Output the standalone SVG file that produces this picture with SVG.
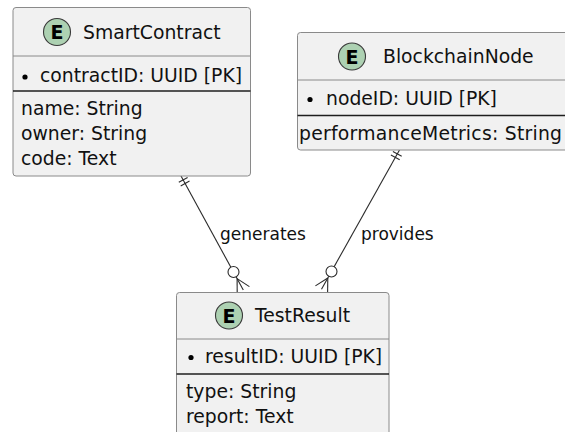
<svg xmlns="http://www.w3.org/2000/svg" width="565" height="432" viewBox="0 0 565 432">
  <style>
    .box { fill: #F1F1F1; stroke: #8a8a8a; stroke-width: 1; }
    .hdr { stroke: #8a8a8a; stroke-width: 1; }
    .sep { stroke: #1e1e1e; stroke-width: 1.3; }
    .badge { fill: #ADD1B2; stroke: #3a3a3a; stroke-width: 1.1; }
    .badge-t { font-family: "DejaVu Sans", sans-serif; font-size: 19px; font-weight: bold; fill: #000; text-anchor: middle; }
    .title { font-family: "DejaVu Sans", sans-serif; font-size: 18.8px; fill: #111; }
    .attr { font-family: "DejaVu Sans", sans-serif; font-size: 18.8px; fill: #111; }
    .bullet { fill: #000; }
    .link { stroke: #2a2a2a; stroke-width: 1.1; fill: none; }
    .ring { stroke: #2a2a2a; stroke-width: 1.1; fill: #ffffff; }
    .lbl { font-family: "DejaVu Sans", sans-serif; font-size: 17px; fill: #111; }
  </style>
  <rect width="565" height="432" fill="#ffffff"/>

  <!-- relationships: exactly one to zero-or-many -->
  <g id="connectors">
    <!-- SmartContract generates TestResult -->
    <g id="link-generates">
      <line class="link" x1="181" y1="176" x2="243.3" y2="290"/>
      <line class="link" x1="187.6" y1="177.5" x2="178.8" y2="182.3"/>
      <line class="link" x1="189.5" y1="181.1" x2="180.7" y2="185.9"/>
      <line class="link" x1="237.1" y1="278.6" x2="249.4" y2="286.6"/>
      <line class="link" x1="237.1" y1="278.6" x2="237.2" y2="292.5"/>
      <circle class="ring" cx="233.5" cy="272" r="5.5"/>
      <text class="lbl" x="220" y="240">generates</text>
    </g>
    <!-- BlockchainNode provides TestResult -->
    <g id="link-provides">
      <line class="link" x1="399.5" y1="150" x2="321.5" y2="289.3"/>
      <line class="link" x1="401.7" y1="156.3" x2="392.9" y2="151.5"/>
      <line class="link" x1="399.7" y1="159.8" x2="390.9" y2="155.0"/>
      <line class="link" x1="327.8" y1="278" x2="315.4" y2="285.9"/>
      <line class="link" x1="327.8" y1="278" x2="327.6" y2="292.5"/>
      <circle class="ring" cx="331.5" cy="271.5" r="5.5"/>
      <text class="lbl" x="361" y="240">provides</text>
    </g>
  </g>

  <!-- SmartContract entity -->
  <g id="SmartContract">
    <rect class="box" x="13" y="7.5" width="237.5" height="168.5" rx="3"/>
    <circle class="badge" cx="57" cy="32" r="13.5"/>
    <text class="badge-t" x="57" y="39">E</text>
    <text class="title" x="83" y="38.5">SmartContract</text>
    <line class="hdr" x1="13" y1="56" x2="250.5" y2="56"/>
    <circle class="bullet" cx="25" cy="77" r="2.6"/>
    <text class="attr" x="40" y="82">contractID: UUID [PK]</text>
    <line class="sep" x1="13" y1="91" x2="250.5" y2="91"/>
    <text class="attr" x="21" y="114.5">name: String</text>
    <text class="attr" x="21" y="139.5">owner: String</text>
    <text class="attr" x="21" y="164.5">code: Text</text>
  </g>

  <!-- BlockchainNode entity -->
  <g id="BlockchainNode">
    <rect class="box" x="297.5" y="32.5" width="285" height="117.5" rx="3"/>
    <circle class="badge" cx="352" cy="56.5" r="13.5"/>
    <text class="badge-t" x="352" y="63.5">E</text>
    <text class="title" x="383" y="63">BlockchainNode</text>
    <line class="hdr" x1="297.5" y1="80" x2="575" y2="80"/>
    <circle class="bullet" cx="310" cy="99.5" r="2.6"/>
    <text class="attr" x="326" y="105">nodeID: UUID [PK]</text>
    <line class="sep" x1="297.5" y1="115.5" x2="575" y2="115.5"/>
    <text class="attr" x="299" y="139.5" textLength="263" lengthAdjust="spacing">performanceMetrics: String</text>
  </g>

  <!-- TestResult entity -->
  <g id="TestResult">
    <rect class="box" x="176.5" y="292.5" width="212.5" height="160" rx="3"/>
    <circle class="badge" cx="229" cy="315.5" r="13.5"/>
    <text class="badge-t" x="229" y="322.5">E</text>
    <text class="title" x="255" y="322">TestResult</text>
    <line class="hdr" x1="176.5" y1="339" x2="389" y2="339"/>
    <circle class="bullet" cx="191" cy="357.5" r="2.6"/>
    <text class="attr" x="205" y="363">resultID: UUID [PK]</text>
    <line class="sep" x1="176.5" y1="374" x2="389" y2="374"/>
    <text class="attr" x="186" y="397.5">type: String</text>
    <text class="attr" x="186" y="422.5">report: Text</text>
  </g>
</svg>
